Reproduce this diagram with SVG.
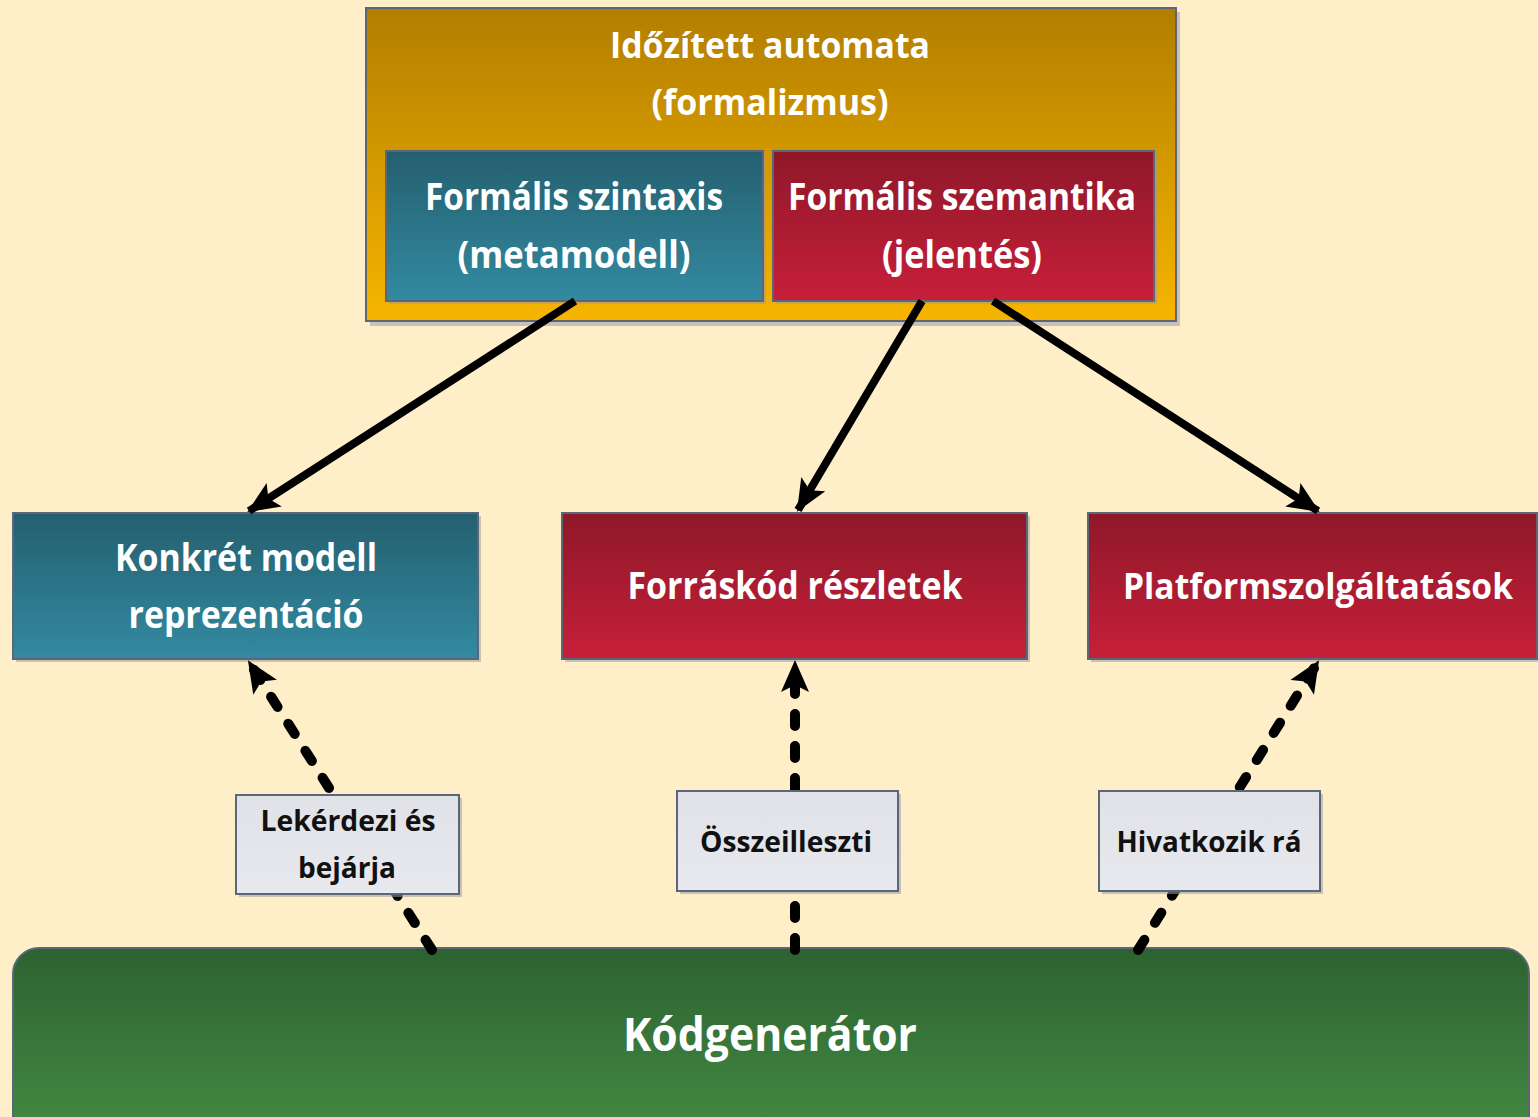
<svg xmlns="http://www.w3.org/2000/svg" width="1538" height="1117" viewBox="0 0 1538 1117">
  <defs>
    <linearGradient id="gOrange" x1="0" y1="0" x2="0" y2="1">
      <stop offset="0" stop-color="#B27E00"/>
      <stop offset="1" stop-color="#F6B500"/>
    </linearGradient>
    <linearGradient id="gTeal" x1="0" y1="0" x2="0" y2="1">
      <stop offset="0" stop-color="#245F6F"/>
      <stop offset="1" stop-color="#338AA1"/>
    </linearGradient>
    <linearGradient id="gRed" x1="0" y1="0" x2="0" y2="1">
      <stop offset="0" stop-color="#8E1829"/>
      <stop offset="1" stop-color="#C71F39"/>
    </linearGradient>
    <linearGradient id="gGreen" x1="0" y1="0" x2="0" y2="1">
      <stop offset="0" stop-color="#2D6230"/>
      <stop offset="1" stop-color="#458D45"/>
    </linearGradient>
    <linearGradient id="gLabel" x1="0" y1="0" x2="0" y2="1">
      <stop offset="0" stop-color="#E0E2E8"/>
      <stop offset="1" stop-color="#E8E9EE"/>
    </linearGradient>
    <marker id="head" viewBox="0 0 32 28" refX="30" refY="14" markerWidth="32" markerHeight="28" markerUnits="userSpaceOnUse" orient="auto">
      <path d="M0,0 L32,14 L0,28 L7,14 Z" fill="#000"/>
    </marker>
  </defs>
  <style>
    .box { stroke: #5B6679; stroke-width: 2; }
    .shadow { fill: #9A9AA2; opacity: 0.55; }
    .wt { fill: #FFFFFF; font-family: "Open Sans", "Noto Sans", "Liberation Sans", sans-serif; font-weight: 700; text-anchor: middle; }
    .bt { fill: #111111; font-family: "Open Sans", "Noto Sans", "Liberation Sans", sans-serif; font-weight: 700; text-anchor: middle; }
    .solid { stroke: #000; stroke-width: 8; fill: none; marker-end: url(#head); }
    .dash { stroke: #000; stroke-width: 10; fill: none; stroke-dasharray: 12 20; stroke-linecap: round; marker-end: url(#head); }
  </style>

  <!-- page -->
  <rect x="0" y="0" width="1538" height="1117" fill="#FFEFC9"/>

  <!-- formalism container with its two parts -->
  <g id="automata">
    <rect class="shadow" x="370" y="12" width="810" height="314"/>
    <rect class="box" x="366" y="8" width="810" height="313" fill="url(#gOrange)"/>
    <text class="wt" x="770" y="58" font-size="36" textLength="320" lengthAdjust="spacingAndGlyphs">Időzített automata</text>
    <text class="wt" x="770" y="115" font-size="36" textLength="237" lengthAdjust="spacingAndGlyphs">(formalizmus)</text>
  </g>
  <g id="szintaxis">
    <rect class="shadow" x="389" y="154" width="377" height="150"/>
    <rect class="box" x="386" y="151" width="377" height="150" fill="url(#gTeal)"/>
    <text class="wt" x="574" y="210" font-size="38" textLength="298" lengthAdjust="spacingAndGlyphs">Formális szintaxis</text>
    <text class="wt" x="574" y="268" font-size="38" textLength="233" lengthAdjust="spacingAndGlyphs">(metamodell)</text>
  </g>
  <g id="szemantika">
    <rect class="shadow" x="776" y="154" width="381" height="150"/>
    <rect class="box" x="773" y="151" width="381" height="150" fill="url(#gRed)"/>
    <text class="wt" x="962" y="210" font-size="38" textLength="348" lengthAdjust="spacingAndGlyphs">Formális szemantika</text>
    <text class="wt" x="962" y="268" font-size="38" textLength="160" lengthAdjust="spacingAndGlyphs">(jelentés)</text>
  </g>

  <!-- middle row -->
  <g id="konkret">
    <rect class="shadow" x="16" y="516" width="465" height="146"/>
    <rect class="box" x="13" y="513" width="465" height="146" fill="url(#gTeal)"/>
    <text class="wt" x="246" y="571" font-size="38" textLength="262" lengthAdjust="spacingAndGlyphs">Konkrét modell</text>
    <text class="wt" x="246" y="628" font-size="38" textLength="235" lengthAdjust="spacingAndGlyphs">reprezentáció</text>
  </g>
  <g id="forraskod">
    <rect class="shadow" x="565" y="516" width="465" height="146"/>
    <rect class="box" x="562" y="513" width="465" height="146" fill="url(#gRed)"/>
    <text class="wt" x="795" y="599" font-size="38" textLength="335" lengthAdjust="spacingAndGlyphs">Forráskód részletek</text>
  </g>
  <g id="platform">
    <rect class="shadow" x="1091" y="516" width="447" height="146"/>
    <rect class="box" x="1088" y="513" width="449" height="146" fill="url(#gRed)"/>
    <text class="wt" x="1318" y="599" font-size="35" textLength="390" lengthAdjust="spacingAndGlyphs">Platformszolgáltatások</text>
  </g>

  <!-- code generator -->
  <g id="kodgenerator">
    <rect class="box" x="13" y="948" width="1516" height="200" rx="26" ry="26" fill="url(#gGreen)"/>
    <text class="wt" x="770" y="1051" font-size="46" textLength="294" lengthAdjust="spacingAndGlyphs">Kódgenerátor</text>
  </g>

  <!-- connectors -->
  <g id="connectors">
    <line class="solid" x1="575" y1="301" x2="249" y2="511"/>
    <line class="solid" x1="922" y1="301" x2="798" y2="510"/>
    <line class="solid" x1="993" y1="301" x2="1318" y2="511"/>
    <line class="dash" x1="432" y1="950" x2="249" y2="662"/>
    <line class="dash" x1="795" y1="950" x2="795" y2="662"/>
    <line class="dash" x1="1138" y1="950" x2="1318" y2="662"/>
  </g>

  <!-- connector labels -->
  <g id="lbl-lekerdezi">
    <rect class="shadow" x="239" y="798" width="223" height="99"/>
    <rect class="box" x="236" y="795" width="223" height="99" fill="url(#gLabel)"/>
    <text class="bt" x="348" y="831" font-size="29" textLength="175" lengthAdjust="spacingAndGlyphs">Lekérdezi és</text>
    <text class="bt" x="347" y="878" font-size="29" textLength="98" lengthAdjust="spacingAndGlyphs">bejárja</text>
  </g>
  <g id="lbl-osszeilleszti">
    <rect class="shadow" x="680" y="794" width="221" height="100"/>
    <rect class="box" x="677" y="791" width="221" height="100" fill="url(#gLabel)"/>
    <text class="bt" x="786" y="852" font-size="29" textLength="172" lengthAdjust="spacingAndGlyphs">Összeilleszti</text>
  </g>
  <g id="lbl-hivatkozik">
    <rect class="shadow" x="1102" y="794" width="221" height="100"/>
    <rect class="box" x="1099" y="791" width="221" height="100" fill="url(#gLabel)"/>
    <text class="bt" x="1209" y="852" font-size="29" textLength="185" lengthAdjust="spacingAndGlyphs">Hivatkozik rá</text>
  </g>
</svg>
